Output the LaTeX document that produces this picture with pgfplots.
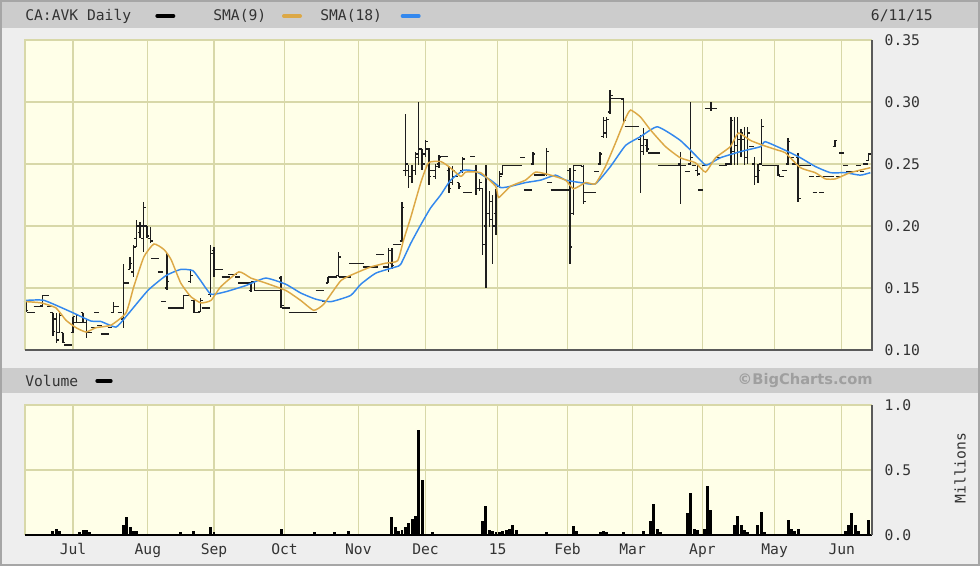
\documentclass[border=0pt]{standalone}
\usepackage{pgfplots}
\pgfplotsset{compat=1.18}
\usepackage{pgfplotstable}
\usepackage{fontspec}
\setmainfont{DejaVu Sans Mono}
\newfontfamily\bcsans{DejaVu Sans}

\definecolor{pagebg}{RGB}{238,238,238}
\definecolor{bandbg}{RGB}{204,204,204}
\definecolor{plotbg}{RGB}{255,255,232}
\definecolor{gridcol}{RGB}{216,216,168}
\definecolor{txt}{RGB}{51,51,51}
\definecolor{framecol}{RGB}{90,90,90}
\definecolor{barcol}{RGB}{30,30,30}
\definecolor{smaorange}{RGB}{220,168,70}
\definecolor{smablue}{RGB}{51,136,238}

\newcommand\lab{\fontsize{11}{13}\selectfont}

\pgfdeclareplotmark{openL}{\pgfpathmoveto{\pgfqpoint{-1.8pt}{0pt}}\pgfpathlineto{\pgfqpoint{0pt}{0pt}}\pgfusepathqstroke}
\pgfdeclareplotmark{closeR}{\pgfpathmoveto{\pgfqpoint{0pt}{0pt}}\pgfpathlineto{\pgfqpoint{1.8pt}{0pt}}\pgfusepathqstroke}

% daily bars: trading day, open, high, low, close
\pgfplotstableread{
d O H L C
0 0.139 0.140 0.131 0.132
1 0.130 0.130 0.130 0.130
2 0.130 0.130 0.130 0.130
3 0.135 0.135 0.135 0.135
4 0.135 0.135 0.135 0.135
5 0.136 0.144 0.135 0.144
6 0.144 0.144 0.144 0.144
7 0.135 0.135 0.135 0.135
8 0.130 0.130 0.111 0.115
9 0.125 0.130 0.106 0.108
10 0.114 0.130 0.114 0.128
11 0.114 0.114 0.106 0.106
12 0.104 0.104 0.104 0.104
13 0.104 0.104 0.104 0.104
14 0.114 0.127 0.114 0.127
15 0.122 0.128 0.122 0.128
16 0.122 0.122 0.122 0.122
17 0.130 0.130 0.122 0.122
18 0.122 0.124 0.110 0.114
19 0.114 0.114 0.114 0.114
20 0.118 0.118 0.118 0.118
21 0.130 0.130 0.130 0.130
22 0.120 0.120 0.120 0.120
23 0.113 0.113 0.113 0.113
24 0.113 0.113 0.113 0.113
25 0.118 0.118 0.118 0.118
26 0.130 0.139 0.130 0.135
27 0.135 0.135 0.135 0.135
28 0.130 0.130 0.130 0.130
29 0.125 0.169 0.118 0.154
30 0.154 0.154 0.154 0.154
31 0.165 0.175 0.165 0.170
32 0.163 0.185 0.159 0.183
33 0.190 0.205 0.183 0.200
34 0.195 0.203 0.190 0.200
35 0.190 0.219 0.179 0.215
36 0.200 0.200 0.190 0.192
37 0.190 0.199 0.186 0.188
38 0.174 0.174 0.174 0.174
39 0.174 0.174 0.174 0.174
40 0.163 0.163 0.163 0.163
41 0.139 0.139 0.139 0.139
42 0.150 0.178 0.148 0.155
43 0.134 0.134 0.134 0.134
44 0.134 0.134 0.134 0.134
45 0.134 0.134 0.134 0.134
46 0.134 0.134 0.134 0.134
47 0.134 0.144 0.134 0.144
48 0.144 0.144 0.144 0.144
49 0.155 0.165 0.154 0.160
50 0.140 0.140 0.130 0.130
51 0.130 0.130 0.130 0.130
52 0.131 0.142 0.131 0.140
53 0.134 0.134 0.134 0.134
54 0.134 0.134 0.134 0.134
55 0.145 0.185 0.143 0.178
56 0.180 0.183 0.159 0.165
57 0.165 0.165 0.165 0.165
58 0.165 0.165 0.165 0.165
59 0.159 0.159 0.159 0.159
60 0.159 0.159 0.159 0.159
61 0.161 0.161 0.161 0.161
62 0.161 0.161 0.161 0.161
63 0.159 0.159 0.159 0.159
64 0.154 0.154 0.154 0.154
65 0.154 0.154 0.154 0.154
66 0.154 0.154 0.154 0.154
67 0.148 0.155 0.147 0.155
68 0.155 0.155 0.148 0.148
69 0.148 0.148 0.148 0.148
70 0.148 0.148 0.148 0.148
71 0.148 0.148 0.148 0.148
72 0.148 0.148 0.148 0.148
73 0.148 0.148 0.148 0.148
74 0.148 0.148 0.148 0.148
75 0.148 0.148 0.148 0.148
76 0.158 0.160 0.134 0.136
77 0.134 0.134 0.134 0.134
78 0.134 0.134 0.134 0.134
79 0.130 0.130 0.130 0.130
80 0.130 0.130 0.130 0.130
81 0.130 0.130 0.130 0.130
82 0.130 0.130 0.130 0.130
83 0.130 0.130 0.130 0.130
84 0.130 0.130 0.130 0.130
85 0.130 0.130 0.130 0.130
86 0.130 0.130 0.130 0.130
87 0.148 0.148 0.148 0.148
88 0.148 0.148 0.148 0.148
89 0.139 0.139 0.139 0.139
90 0.154 0.159 0.154 0.159
91 0.159 0.159 0.159 0.159
92 0.159 0.159 0.159 0.159
93 0.160 0.179 0.159 0.175
94 0.159 0.159 0.159 0.159
95 0.159 0.159 0.159 0.159
96 0.159 0.159 0.159 0.159
97 0.170 0.170 0.170 0.170
98 0.170 0.170 0.170 0.170
99 0.170 0.170 0.170 0.170
100 0.170 0.170 0.170 0.170
101 0.167 0.167 0.167 0.167
102 0.167 0.167 0.167 0.167
103 0.167 0.167 0.167 0.167
104 0.167 0.167 0.167 0.167
105 0.177 0.177 0.177 0.177
106 0.177 0.177 0.177 0.177
107 0.167 0.167 0.167 0.167
108 0.165 0.182 0.163 0.180
109 0.170 0.182 0.165 0.168
110 0.185 0.185 0.185 0.185
111 0.185 0.185 0.185 0.185
112 0.188 0.219 0.187 0.215
113 0.245 0.290 0.240 0.250
114 0.245 0.249 0.231 0.240
115 0.240 0.249 0.235 0.245
116 0.245 0.260 0.241 0.258
117 0.255 0.300 0.249 0.262
118 0.262 0.262 0.245 0.250
119 0.258 0.269 0.256 0.268
120 0.262 0.263 0.233 0.240
121 0.245 0.245 0.245 0.245
122 0.240 0.250 0.238 0.248
123 0.250 0.257 0.247 0.255
124 0.256 0.256 0.256 0.256
125 0.256 0.256 0.256 0.256
126 0.245 0.248 0.227 0.230
127 0.235 0.248 0.233 0.245
128 0.240 0.240 0.240 0.240
129 0.235 0.235 0.230 0.232
130 0.245 0.256 0.243 0.254
131 0.227 0.227 0.227 0.227
132 0.227 0.227 0.227 0.227
133 0.256 0.256 0.256 0.256
134 0.245 0.249 0.225 0.230
135 0.230 0.238 0.228 0.235
136 0.230 0.231 0.177 0.185
137 0.200 0.249 0.150 0.210
138 0.210 0.228 0.199 0.205
139 0.220 0.225 0.169 0.200
140 0.210 0.230 0.193 0.225
141 0.232 0.244 0.231 0.240
142 0.242 0.249 0.241 0.249
143 0.249 0.249 0.249 0.249
144 0.249 0.249 0.249 0.249
145 0.249 0.249 0.249 0.249
146 0.249 0.249 0.249 0.249
147 0.249 0.249 0.249 0.249
148 0.255 0.255 0.255 0.255
149 0.229 0.229 0.229 0.229
150 0.229 0.229 0.229 0.229
151 0.250 0.260 0.249 0.258
152 0.241 0.241 0.241 0.241
153 0.241 0.241 0.241 0.241
154 0.241 0.241 0.241 0.241
155 0.242 0.263 0.240 0.260
156 0.235 0.235 0.235 0.235
157 0.229 0.229 0.229 0.229
158 0.229 0.229 0.229 0.229
159 0.229 0.229 0.229 0.229
160 0.229 0.229 0.229 0.229
161 0.229 0.229 0.229 0.229
162 0.245 0.247 0.169 0.183
163 0.210 0.249 0.209 0.245
164 0.249 0.249 0.249 0.249
165 0.249 0.249 0.249 0.249
166 0.248 0.249 0.218 0.220
167 0.227 0.227 0.227 0.227
168 0.227 0.227 0.227 0.227
169 0.227 0.227 0.227 0.227
170 0.244 0.244 0.244 0.244
171 0.250 0.260 0.249 0.258
172 0.272 0.288 0.271 0.285
173 0.275 0.288 0.271 0.286
174 0.292 0.310 0.290 0.305
175 0.303 0.303 0.303 0.303
176 0.303 0.303 0.303 0.303
177 0.303 0.303 0.303 0.303
178 0.302 0.303 0.284 0.285
179 0.280 0.280 0.280 0.280
180 0.280 0.280 0.280 0.280
181 0.280 0.280 0.280 0.280
182 0.280 0.280 0.280 0.280
183 0.270 0.273 0.227 0.265
184 0.260 0.279 0.257 0.270
185 0.265 0.270 0.260 0.262
186 0.259 0.259 0.259 0.259
187 0.259 0.259 0.259 0.259
188 0.259 0.259 0.259 0.259
189 0.249 0.249 0.249 0.249
190 0.249 0.249 0.249 0.249
191 0.249 0.249 0.249 0.249
192 0.249 0.249 0.249 0.249
193 0.249 0.249 0.249 0.249
194 0.249 0.249 0.249 0.249
195 0.250 0.260 0.218 0.249
196 0.249 0.249 0.249 0.249
197 0.244 0.244 0.244 0.244
198 0.250 0.300 0.249 0.255
199 0.249 0.249 0.249 0.249
200 0.245 0.249 0.240 0.242
201 0.229 0.229 0.229 0.229
202 0.249 0.249 0.249 0.249
203 0.295 0.295 0.295 0.295
204 0.295 0.300 0.293 0.295
205 0.295 0.295 0.295 0.295
206 0.255 0.255 0.255 0.255
207 0.249 0.249 0.249 0.249
208 0.249 0.249 0.249 0.249
209 0.250 0.250 0.250 0.250
210 0.250 0.288 0.249 0.285
211 0.260 0.288 0.249 0.265
212 0.265 0.288 0.249 0.270
213 0.260 0.278 0.256 0.275
214 0.270 0.280 0.249 0.255
215 0.255 0.280 0.250 0.275
216 0.264 0.264 0.264 0.264
217 0.250 0.256 0.233 0.240
218 0.240 0.250 0.235 0.245
219 0.250 0.286 0.249 0.280
220 0.249 0.249 0.249 0.249
221 0.249 0.249 0.249 0.249
222 0.249 0.249 0.249 0.249
223 0.249 0.249 0.249 0.249
224 0.249 0.249 0.240 0.241
225 0.240 0.240 0.240 0.240
226 0.245 0.245 0.245 0.245
227 0.250 0.271 0.249 0.268
228 0.255 0.255 0.255 0.255
229 0.250 0.250 0.250 0.250
230 0.255 0.259 0.219 0.222
231 0.249 0.249 0.249 0.249
232 0.249 0.249 0.249 0.249
233 0.249 0.249 0.249 0.249
234 0.240 0.240 0.240 0.240
235 0.227 0.227 0.227 0.227
236 0.240 0.240 0.240 0.240
237 0.227 0.227 0.227 0.227
238 0.240 0.240 0.240 0.240
239 0.240 0.240 0.240 0.240
240 0.240 0.240 0.240 0.240
241 0.264 0.269 0.264 0.269
242 0.240 0.240 0.240 0.240
243 0.259 0.259 0.259 0.259
244 0.249 0.249 0.249 0.249
245 0.244 0.244 0.244 0.244
246 0.244 0.244 0.244 0.244
247 0.244 0.244 0.244 0.244
248 0.249 0.249 0.249 0.249
249 0.244 0.244 0.244 0.244
250 0.250 0.250 0.250 0.250
251 0.253 0.259 0.253 0.258
}\ohlc

% volume in millions
\pgfplotstableread{
d v
8 0.03
9 0.05
10 0.03
16 0.02
17 0.04
18 0.04
19 0.02
26 0.01
29 0.08
30 0.14
31 0.06
32 0.03
33 0.03
42 0.01
46 0.02
50 0.03
55 0.065
56 0.02
68 0.01
76 0.05
86 0.02
92 0.02
96 0.03
104 0.01
106 0.01
109 0.14
110 0.06
111 0.03
112 0.04
113 0.06
114 0.09
115 0.12
116 0.15
117 0.81
118 0.42
121 0.02
136 0.11
137 0.22
138 0.04
139 0.03
140 0.02
141 0.02
142 0.03
143 0.04
144 0.05
145 0.08
146 0.04
150 0.01
155 0.02
163 0.07
164 0.03
166 0.01
171 0.02
172 0.03
173 0.02
178 0.02
184 0.03
186 0.11
187 0.24
188 0.05
189 0.02
197 0.17
198 0.32
199 0.05
200 0.04
202 0.05
203 0.38
204 0.19
210 0.01
211 0.08
212 0.15
213 0.08
214 0.04
215 0.02
218 0.08
219 0.18
220 0.02
225 0.01
227 0.115
228 0.05
229 0.03
230 0.05
244 0.03
245 0.08
246 0.17
247 0.08
248 0.03
251 0.115
}\vol

\pgfplotsset{bc/.style={
  scale only axis, width=635.25pt,
  xmin=-0.3, xmax=252,
  axis line style={draw=none}, tick style={draw=none},
  grid=major, major grid style={gridcol, line width=0.9pt},
  axis background/.style={fill=plotbg},
  clip mode=individual,
  xtick={14,36.3,56,77,99,119,140.5,161.3,180.7,201.5,223,243},
  yticklabel pos=right,
  yticklabel style={font=\lab, text=txt, anchor=west, xshift=6pt},
  xticklabel style={font=\lab, text=txt, yshift=-3pt},
}}

\begin{document}
\begin{tikzpicture}
% page and bands
\fill[pagebg] (0,0) rectangle (735pt,-424.5pt);
\fill[bandbg] (1.5pt,-1.5pt) rectangle (733.5pt,-21pt);
\fill[bandbg] (1.5pt,-276pt) rectangle (733.5pt,-294.75pt);
\draw[gray!70, line width=1.5pt] (0.75pt,-0.75pt) rectangle (734.25pt,-423.75pt);

% header
\node[anchor=west, font=\lab, text=txt, inner sep=0pt] at (18.75pt,-12pt) {CA:AVK Daily};
\draw[black, line width=3pt, line cap=round] (118pt,-12pt) -- (130pt,-12pt);
\node[anchor=west, font=\lab, text=txt, inner sep=0pt] at (159.75pt,-12pt) {SMA(9)};
\draw[smaorange, line width=3pt, line cap=round] (213pt,-12pt) -- (225pt,-12pt);
\node[anchor=west, font=\lab, text=txt, inner sep=0pt] at (240pt,-12pt) {SMA(18)};
\draw[smablue, line width=3pt, line cap=round] (302pt,-12pt) -- (314pt,-12pt);
\node[anchor=east, font=\lab, text=txt, inner sep=0pt] at (699.75pt,-12pt) {6/11/15};

% volume band
\node[anchor=west, font=\lab, text=txt, inner sep=0pt] at (18.75pt,-285.75pt) {Volume};
\draw[black, line width=3pt, line cap=round] (73pt,-285.75pt) -- (83pt,-285.75pt);
\node[anchor=east, font=\bcsans\bfseries\fontsize{11}{13}\selectfont, text=gray!75, inner sep=0pt] at (654.75pt,-285.75pt) {©BigCharts.com};

% price panel
\begin{axis}[bc,
  at={(18.75pt,-262.5pt)}, anchor=south west, height=232.5pt,
  ymin=0.10, ymax=0.35,
  ytick={0.10,0.15,0.20,0.25,0.30,0.35},
  yticklabels={0.10,0.15,0.20,0.25,0.30,0.35},
  xticklabels={},
]
\addplot[only marks, mark=openL, barcol, mark options={line width=1pt},
  error bars/.cd, y dir=both, y explicit, error mark=none,
  error bar style={line width=1pt, barcol}]
  table[x=d, y=O, y error plus expr=\thisrow{H}-\thisrow{O}, y error minus expr=\thisrow{O}-\thisrow{L}] {\ohlc};
\addplot[only marks, mark=closeR, barcol, mark options={line width=1pt}]
  table[x=d, y=C] {\ohlc};
% SMA(18)
\addplot[smablue, line width=1.1pt, smooth, tension=0.3] coordinates {
(0,0.140) (5.4,0.140) (14,0.130) (19.3,0.1234) (22.3,0.123) (26.8,0.1185)
(29.8,0.127) (36.3,0.148) (41.7,0.160) (46.1,0.165) (49.7,0.164) (52,0.156)
(55.1,0.145) (59.5,0.147) (65.5,0.152) (71.4,0.158) (77.4,0.153) (81.8,0.146)
(86.3,0.141) (90.8,0.139) (96.7,0.144) (99.7,0.153) (104.2,0.162) (110.1,0.167)
(111.6,0.169) (114.6,0.186) (117.6,0.201) (120.5,0.2145) (123.5,0.225)
(126.5,0.237) (130.4,0.245) (133.9,0.244) (138.4,0.237) (141.4,0.231)
(144.3,0.232) (148.8,0.235) (153.3,0.237) (157.7,0.241) (160.7,0.237)
(165.2,0.235) (169.6,0.234) (174.1,0.248) (178.6,0.265) (183,0.272)
(188.1,0.280) (194.9,0.269) (200.9,0.253) (202.7,0.249) (206.8,0.255)
(212.8,0.260) (218.8,0.264) (220.2,0.268) (226.2,0.261) (230.7,0.255)
(235.1,0.248) (239.6,0.243) (244,0.243) (248.5,0.241) (251.5,0.243)
};
% SMA(9)
\addplot[smaorange, line width=1.1pt, smooth, tension=0.3] coordinates {
(0,0.139) (4.5,0.138) (8.9,0.134) (11.9,0.124) (14.9,0.118) (17.9,0.1145)
(20.8,0.118) (25.3,0.120) (29.8,0.130) (32.1,0.151) (35.1,0.175) (38.1,0.1855)
(41.1,0.181) (43.2,0.173) (46.1,0.154) (49.1,0.143) (52.1,0.138) (55.1,0.140)
(58,0.151) (63.4,0.163) (67,0.158) (71.4,0.154) (77.4,0.148) (81.8,0.140)
(85.7,0.132) (88.7,0.137) (93.8,0.156) (98.2,0.162) (102.7,0.167) (107.1,0.170)
(110.7,0.172) (112.5,0.189) (114.6,0.207) (117.6,0.235) (119.9,0.251)
(123.5,0.252) (125.9,0.248) (129.5,0.240) (131,0.2435) (135.4,0.243)
(139.9,0.232) (140.8,0.223) (144.3,0.232) (148.8,0.237) (151.8,0.2435)
(156.3,0.241) (160.7,0.237) (163.1,0.230) (166.7,0.235) (169.6,0.234)
(172.6,0.248) (175.6,0.267) (178.6,0.287) (180.1,0.2935) (183,0.288)
(186,0.2775) (190.5,0.264) (194.9,0.255) (199.4,0.251) (202.4,0.2435)
(205.4,0.255) (209.8,0.264) (212.2,0.275) (215.8,0.269) (219.6,0.265)
(224.1,0.261) (226.2,0.259) (230.7,0.247) (235.1,0.243) (238.1,0.238)
(241.1,0.238) (245.5,0.243) (251.5,0.247)
};
\draw[gridcol, line width=1pt] (rel axis cs:0,0) -- (rel axis cs:0,1) -- (rel axis cs:1,1);
\draw[framecol, line width=1.5pt] (rel axis cs:0,0) -- (rel axis cs:1,0) -- (rel axis cs:1,1);
\end{axis}

% volume panel
\begin{axis}[bc,
  at={(18.75pt,-401.25pt)}, anchor=south west, height=97.5pt,
  ymin=0, ymax=1.0,
  ytick={0,0.5,1}, yticklabels={0.0,0.5,1.0},
  xticklabels={Jul,Aug,Sep,Oct,Nov,Dec,15,Feb,Mar,Apr,May,Jun},
]
\addplot[ycomb, black, line width=2.2pt] table[x=d, y=v] {\vol};
\draw[gridcol, line width=1pt] (rel axis cs:0,0) -- (rel axis cs:0,1) -- (rel axis cs:1,1);
\draw[black, line width=1.8pt] (rel axis cs:0,0) -- (rel axis cs:1,0);
\draw[framecol, line width=1.5pt] (rel axis cs:1,0) -- (rel axis cs:1,1);
\end{axis}

\node[rotate=90, font=\lab, text=txt, inner sep=0pt] at (720pt,-351pt) {Millions};

\pgfresetboundingbox
\useasboundingbox (0,0) rectangle (735pt,-424.5pt);
\end{tikzpicture}
\end{document}
